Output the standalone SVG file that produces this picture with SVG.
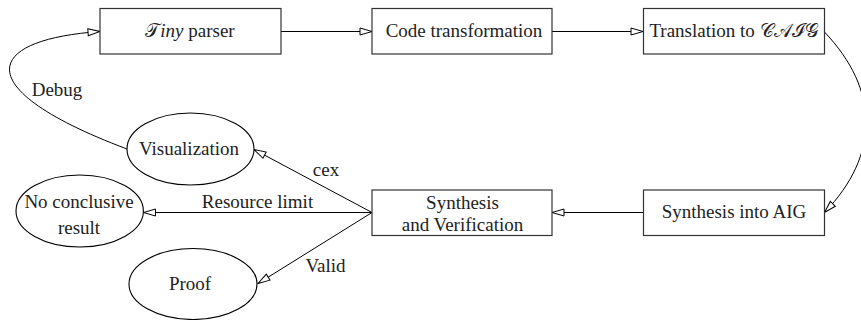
<svg xmlns="http://www.w3.org/2000/svg" width="861" height="320" viewBox="0 0 861 320" font-family="Liberation Serif, serif" font-size="19">
<style>
.box{fill:#fff;stroke:#333;stroke-width:1.2}
.ell{fill:#fff;stroke:#000;stroke-width:1.1}
.t{fill:#222}
.e{fill:none;stroke:#000;stroke-width:1;marker-end:url(#ah)}
</style>
<defs>
<marker id="ah" markerUnits="userSpaceOnUse" markerWidth="14" markerHeight="10" refX="12" refY="3.5" orient="auto" overflow="visible">
<path d="M0,0 L12,3.5 L0,7 z" fill="#fff" stroke="#000" stroke-width="1"/>
</marker>
</defs>
<g id="connectors">
<path class="e" d="M281,31.5 L372,31.5"/>
<path class="e" d="M552,31.5 L643,31.5"/>
<path class="e" d="M824,31.5 C880,90 880,155 824.5,212.5"/>
<path class="e" d="M643,212.5 L552,212.5"/>
<path class="e" d="M372,212.5 L254,149.5"/>
<path class="e" d="M372,212.5 L143.5,212.5"/>
<path class="e" d="M372,212.5 L258,283.5"/>
<path class="e" d="M127,149 C-30,90 -20,40 100,31.5"/>
<text class="t" x="57" y="96" text-anchor="middle">Debug</text>
<text class="t" x="326" y="176" text-anchor="middle">cex</text>
<text class="t" x="257.5" y="207.5" text-anchor="middle">Resource limit</text>
<text class="t" x="325.5" y="271.5" text-anchor="middle">Valid</text>
</g>
<g id="tiny-parser">
<rect class="box" x="100" y="8.5" width="181" height="45.5"/>
<text class="t" x="190" y="37" text-anchor="middle">𝒯<tspan font-style="italic">iny</tspan> parser</text>
</g>
<g id="code-transformation">
<rect class="box" x="372" y="8.5" width="180" height="45.5"/>
<text class="t" x="464" y="37" text-anchor="middle">Code transformation</text>
</g>
<g id="translation">
<rect class="box" x="643.5" y="8.5" width="181" height="45.5"/>
<text class="t" x="734" y="37" text-anchor="middle">Translation to 𝒞𝒜ℐ𝒢</text>
</g>
<g id="synthesis-aig">
<rect class="box" x="643.5" y="190" width="181" height="45.5"/>
<text class="t" x="734" y="217.5" text-anchor="middle">Synthesis into AIG</text>
</g>
<g id="synthesis-verification">
<rect class="box" x="372" y="190" width="180" height="45.5"/>
<text class="t" x="462.5" y="208.5" text-anchor="middle">Synthesis</text>
<text class="t" x="462.5" y="230.5" text-anchor="middle">and Verification</text>
</g>
<g id="visualization">
<ellipse class="ell" cx="190.5" cy="149" rx="63.5" ry="36"/>
<text class="t" x="189" y="154.5" text-anchor="middle">Visualization</text>
</g>
<g id="no-conclusive">
<ellipse class="ell" cx="79.7" cy="211" rx="63.7" ry="36"/>
<text class="t" x="79" y="207.5" text-anchor="middle">No conclusive</text>
<text class="t" x="79" y="233.5" text-anchor="middle">result</text>
</g>
<g id="proof">
<ellipse class="ell" cx="193" cy="284" rx="64" ry="35.5"/>
<text class="t" x="190" y="290" text-anchor="middle">Proof</text>
</g>
</svg>
